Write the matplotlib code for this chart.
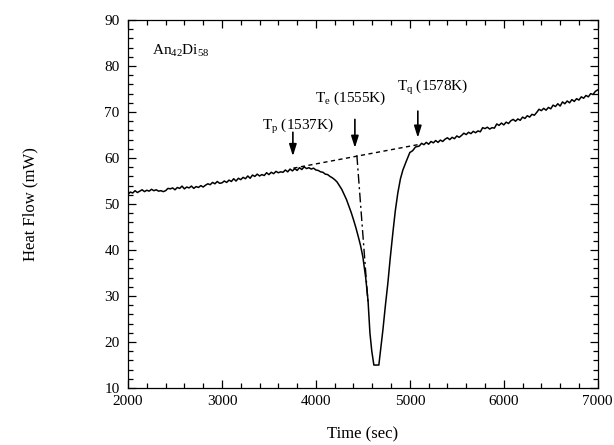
import matplotlib
matplotlib.use('Agg')
import matplotlib.pyplot as plt
import numpy as np
from matplotlib.ticker import MultipleLocator

plt.rcParams['font.family'] = ['Liberation Serif', 'DejaVu Serif']
plt.rcParams['mathtext.fontset'] = 'custom'
plt.rcParams['mathtext.rm'] = 'Liberation Serif'
plt.rcParams['mathtext.it'] = 'Liberation Serif'

# DSC trace (time in s, heat flow in mW)
# before the peak, sampled every 25 s from 2000 to 4500
pre_t = np.arange(2000, 4501, 25)
pre_hf = [52.1, 52.6, 52.4, 52.9, 52.5, 52.8, 53.1, 52.7, 53.0, 52.8,
          53.2, 52.9, 53.1, 52.8, 52.9, 52.7, 52.9, 53.4, 53.3, 53.5,
          53.1, 53.6, 53.4, 53.9, 53.3, 53.7, 53.5, 53.9, 53.4, 53.8,
          53.6, 54.0, 53.7, 54.1, 54.4, 54.2, 54.7, 54.4, 54.9, 54.5,
          54.6, 55.0, 54.7, 55.2, 54.9, 55.5, 55.0, 55.6, 55.3, 55.8,
          55.5, 56.1, 55.6, 56.3, 56.0, 56.5, 56.1, 56.4, 56.2, 56.8,
          56.4, 56.9, 56.6, 57.1, 56.8, 57.0, 56.9, 57.4, 57.0, 57.6,
          57.2, 57.7, 57.3, 57.9, 57.5, 58.1, 57.7, 57.9, 57.6, 57.8,
          57.4, 57.3, 57.0, 56.9, 56.5, 56.4, 56.0, 55.7, 55.3, 54.8,
          54.0, 53.2, 52.1, 51.0, 49.6, 48.2, 46.6, 44.9, 43.0, 41.0,
          38.5]
# the endothermic dip
peak_t = [4530, 4555, 4575, 4595, 4617, 4670, 4690, 4713, 4740, 4766,
          4790, 4819, 4845, 4872, 4900, 4926, 4960, 5000, 5030, 5060]
peak_hf = [34.0, 29.0, 22.0, 18.0, 15.0, 15.0, 18.5, 22.6, 28.0, 32.8,
           38.0, 43.7, 48.5, 52.4, 55.5, 57.4, 59.2, 61.2, 61.6, 62.4]
# after the peak, every 25 s from 5100 to 7000
post_t = np.arange(5100, 7001, 25)
post_hf = [62.6, 63.2, 62.9, 63.4, 63.0, 63.6, 63.3, 63.8, 63.4, 63.9,
           63.6, 64.1, 64.4, 64.0, 64.5, 64.2, 64.8, 64.5, 64.9, 65.4,
           65.1, 65.6, 65.3, 65.8, 65.5, 65.9, 65.7, 66.6, 66.4, 66.7,
           66.3, 66.6, 66.5, 67.4, 67.1, 67.6, 67.2, 67.8, 67.5, 68.1,
           68.4, 68.0, 68.5, 68.2, 68.9, 68.6, 69.2, 68.9, 69.5, 69.3,
           69.9, 70.6, 70.3, 70.8, 70.4, 71.0, 70.7, 71.5, 71.2, 71.8,
           71.3, 72.2, 71.8, 72.4, 72.0, 72.7, 72.3, 72.9, 72.6, 73.3,
           73.0, 73.6, 73.3, 74.0, 73.8, 74.5, 74.8]

# extrapolated baseline and onset tangent
base_t = [3760, 5110]
base_hf = [57.8, 63.0]
onset_t = [4436, 4555]
onset_hf = [60.6, 28.5]

# label, arrow x, arrow top, arrow tip, text x, text y
marks = [
    (r'T$_\mathrm{p}$ (1537K)', 3755, 65.6, 60.4, 3430, 66.2),
    (r'T$_\mathrm{e}$ (1555K)', 4415, 68.4, 62.2, 3990, 72.3),
    (r'T$_\mathrm{q}$ (1578K)', 5085, 70.2, 64.4, 4860, 74.5),
]

time_s = np.concatenate([pre_t, peak_t, post_t])
heat_flow = np.concatenate([pre_hf, peak_hf, post_hf])

fig = plt.figure(figsize=(6.14, 4.45), dpi=100)
ax = fig.add_axes([0.2085, 0.128, 0.765, 0.827])

ax.plot(time_s, heat_flow, color='black', lw=1.1)
ax.plot(base_t, base_hf, color='black', lw=1.0, ls=(0, (3, 2.5)))
ax.plot(onset_t, onset_hf, color='black', lw=1.0, ls=(0, (7, 2.5, 1.5, 2.5)))

for label, ax_x, y0, y1, tx, ty in marks:
    ax.annotate('', xy=(ax_x, y1), xytext=(ax_x, y0),
                arrowprops=dict(arrowstyle='-|>,head_length=0.7,head_width=0.22',
                                color='black', lw=1.2, shrinkA=0, shrinkB=0))
    ax.text(tx, ty, label, fontsize=11)

ax.text(2250, 82.5, r'An$_{\mathrm{42}}$Di$_{\mathrm{58}}$', fontsize=11)

ax.set_xlim(2000, 7000)
ax.set_ylim(10, 90)
ax.xaxis.set_major_locator(MultipleLocator(1000))
ax.xaxis.set_minor_locator(MultipleLocator(200))
ax.yaxis.set_major_locator(MultipleLocator(10))
ax.yaxis.set_minor_locator(MultipleLocator(2))
ax.tick_params(which='both', direction='in', top=True, right=True, labelsize=11)
ax.tick_params(which='major', length=6, width=0.9)
ax.tick_params(which='minor', length=3.5, width=0.9)
ax.tick_params(axis='y', pad=6)
ax.tick_params(axis='x', pad=5)
for sp in ax.spines.values():
    sp.set_linewidth(0.9)

ax.set_xlabel('Time (sec)', fontsize=12)
ax.set_ylabel('Heat Flow (mW)', fontsize=12)
ax.xaxis.set_label_coords(0.5, -0.105)
ax.yaxis.set_label_coords(-0.19, 0.5)

fig.savefig('out.png', dpi=100)
